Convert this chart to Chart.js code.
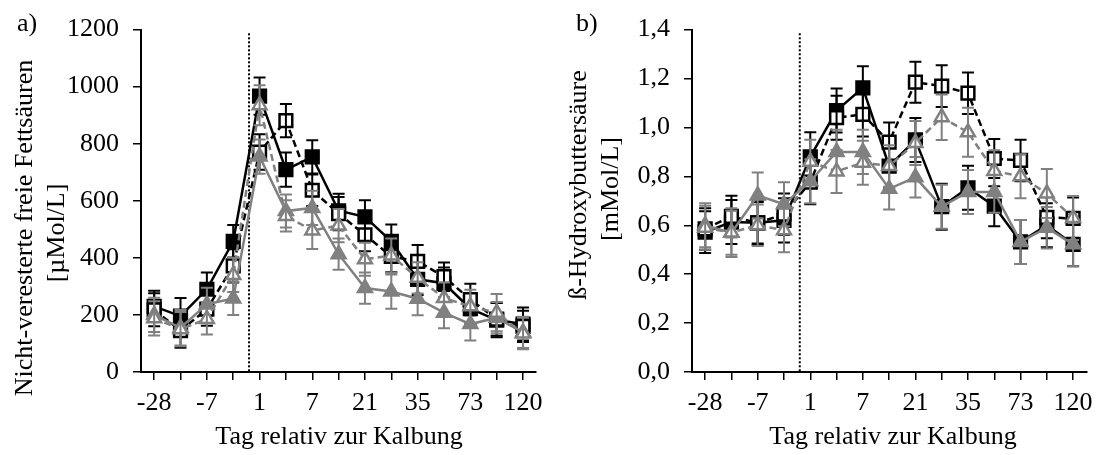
<!doctype html>
<html lang="de">
<head>
  <meta charset="utf-8">
  <title>NEFA und BHB um die Kalbung</title>
  <style>
    body { margin: 0; background: #fff; }
    #wrap { position: relative; width: 1101px; height: 455px; }
    canvas { position: absolute; top: 0; }
    #nefa { left: 0; }
    #bhb { left: 551px; }
  </style>
</head>
<body>
<div id="wrap">
  <canvas id="nefa" width="551" height="455"></canvas>
  <canvas id="bhb" width="550" height="455"></canvas>
</div>

<script src="https://cdn.jsdelivr.net/npm/chart.js@4.4.1/dist/chart.umd.min.js"></script>
<script>
  // Tag relativ zur Kalbung (only every second one is labelled)
  const days = ['-28', '-14', '-7', '-3', '1', '4', '7', '14', '21', '28', '35', '56', '73', '98', '120'];

  // a) Nicht-veresterte freie Fettsaeuren, µMol/L
  const nefaBlackFilled = [230, 196, 290, 458, 967, 709, 754, 565, 544, 458, 325, 311, 222, 182, 168];
  const nefaBlackFilledErr = [55, 63, 59, 57, 65, 60, 58, 60, 58, 59, 55, 55, 55, 60, 58];
  const nefaBlackOpen = [218, 145, 220, 372, 771, 881, 637, 555, 481, 405, 388, 334, 254, 185, 160];
  const nefaBlackOpenErr = [58, 60, 58, 58, 62, 58, 55, 58, 58, 55, 57, 50, 55, 58, 55];
  const nefaGreyFilled = [200, 155, 237, 258, 755, 564, 575, 413, 294, 282, 257, 208, 168, 190, 139];
  const nefaGreyFilledErr = [60, 62, 58, 58, 60, 58, 60, 55, 55, 60, 58, 55, 58, 55, 55];
  const nefaGreyOpen = [188, 150, 186, 340, 935, 547, 496, 513, 395, 408, 330, 259, 230, 208, 135];
  const nefaGreyOpenErr = [60, 60, 55, 60, 70, 55, 65, 58, 58, 60, 55, 55, 58, 65, 55];

  // b) ß-Hydroxybuttersaeure, mMol/L
  const bhbBlackFilled = [0.572, 0.613, 0.610, 0.620, 0.880, 1.069, 1.162, 0.842, 0.949, 0.676, 0.753, 0.678, 0.532, 0.600, 0.522];
  const bhbBlackFilledErr = [0.085, 0.09, 0.09, 0.09, 0.10, 0.09, 0.088, 0.09, 0.09, 0.094, 0.09, 0.082, 0.09, 0.09, 0.09];
  const bhbBlackOpen = [0.585, 0.636, 0.610, 0.645, 0.776, 1.040, 1.053, 0.940, 1.185, 1.169, 1.140, 0.873, 0.865, 0.632, 0.628];
  const bhbBlackOpenErr = [0.085, 0.085, 0.085, 0.085, 0.09, 0.09, 0.09, 0.08, 0.084, 0.085, 0.085, 0.08, 0.085, 0.085, 0.085];
  const bhbGreyFilled = [0.600, 0.569, 0.722, 0.686, 0.780, 0.900, 0.900, 0.749, 0.796, 0.676, 0.736, 0.736, 0.532, 0.590, 0.522];
  const bhbGreyFilledErr = [0.09, 0.09, 0.094, 0.09, 0.09, 0.09, 0.09, 0.085, 0.083, 0.09, 0.09, 0.085, 0.09, 0.085, 0.09];
  const bhbGreyOpen = [0.590, 0.570, 0.600, 0.580, 0.860, 0.820, 0.856, 0.842, 0.936, 1.042, 0.980, 0.822, 0.800, 0.730, 0.630];
  const bhbGreyOpenErr = [0.09, 0.1, 0.085, 0.09, 0.09, 0.088, 0.09, 0.085, 0.09, 0.093, 0.1, 0.085, 0.09, 0.10, 0.09];

  const BLACK = '#000000';
  const GREY = '#808080';
  const FONT = '"Liberation Serif", "Times New Roman", serif';

  Chart.defaults.font.family = FONT;
  Chart.defaults.font.size = 26;
  Chart.defaults.color = BLACK;

  // error bars in the colour of the series, drawn right after each series
  const errorBars = {
    id: 'errorBars',
    afterDatasetDraw(chart, args) {
      const ds = chart.data.datasets[args.index];
      if (!ds.err) return;
      const ctx = chart.ctx;
      const y = chart.scales.y;
      ctx.save();
      ctx.setLineDash([]);
      ctx.strokeStyle = ds.borderColor;
      ctx.lineWidth = 2;
      args.meta.data.forEach((pt, i) => {
        const top = y.getPixelForValue(ds.data[i] + ds.err[i]);
        const bot = y.getPixelForValue(ds.data[i] - ds.err[i]);
        ctx.beginPath();
        ctx.moveTo(pt.x, top); ctx.lineTo(pt.x, bot);
        ctx.moveTo(pt.x - 6, top); ctx.lineTo(pt.x + 6, top);
        ctx.moveTo(pt.x - 6, bot); ctx.lineTo(pt.x + 6, bot);
        ctx.stroke();
      });
      ctx.restore();
    }
  };

  // dotted line marking the calving day
  const calving = {
    id: 'calving',
    beforeDatasetsDraw(chart, args, opts) {
      const ctx = chart.ctx;
      const px = chart.scales.x.getPixelForValue(opts.at);
      ctx.save();
      ctx.strokeStyle = BLACK;
      ctx.lineWidth = 2;
      ctx.setLineDash([2, 2]);
      ctx.beginPath();
      ctx.moveTo(px, chart.scales.y.getPixelForValue(opts.top));
      ctx.lineTo(px, chart.chartArea.bottom);
      ctx.stroke();
      ctx.restore();
    }
  };

  // axis titles and panel letters
  const panelText = {
    id: 'panelText',
    afterDraw(chart, args, opts) {
      const ctx = chart.ctx;
      ctx.save();
      ctx.fillStyle = BLACK;
      ctx.textBaseline = 'middle';
      opts.items.forEach(t => {
        ctx.save();
        ctx.font = t.size + 'px ' + FONT;
        ctx.textAlign = t.align || 'center';
        ctx.translate(t.x, t.y);
        if (t.rot) ctx.rotate(-Math.PI / 2);
        ctx.fillText(t.text, 0, 0);
        ctx.restore();
      });
      ctx.restore();
    }
  };

  function series(data, err, colour, style, open, dashed) {
    return {
      data: data,
      err: err,
      borderColor: colour,
      backgroundColor: colour,
      borderWidth: 2.5,
      borderDash: dashed ? [7, 4] : [],
      pointStyle: style,
      pointRadius: style === 'rect' ? 9 : 8,
      pointBorderWidth: 2.5,
      pointBackgroundColor: open ? '#ffffff' : colour,
      pointBorderColor: colour,
      tension: 0
    };
  }

  function makeChart(id, sets, yMax, yStep, fmt, padRight, calvingTop, texts) {
    new Chart(document.getElementById(id), {
      type: 'line',
      data: {
        labels: days,
        datasets: sets
      },
      plugins: [errorBars, calving, panelText],
      options: {
        responsive: false,
        animation: false,
        events: [],
        layout: { padding: { left: 0, right: padRight, top: 22, bottom: 0 } },
        plugins: {
          legend: { display: false },
          tooltip: { enabled: false },
          calving: { at: 3.6, top: calvingTop },
          panelText: { items: texts }
        },
        scales: {
          x: {
            offset: true,
            afterFit: s => { s.height = 83; },
            grid: { offset: false, drawOnChartArea: false, tickLength: 8, color: BLACK, lineWidth: 1.5 },
            border: { color: BLACK, width: 2 },
            ticks: {
              autoSkip: false, maxRotation: 0, padding: 8,
              callback: (v, i) => i % 2 === 0 ? days[i] : ''
            }
          },
          y: {
            min: 0, max: yMax,
            afterFit: s => { s.width = 141; },
            grid: { drawOnChartArea: false, tickLength: 8, color: BLACK, lineWidth: 1.5 },
            border: { color: BLACK, width: 2 },
            ticks: { stepSize: yStep, padding: 14, callback: fmt }
          }
        }
      }
    });
  }

  function nefaSets() {
    const a = series(nefaBlackFilled, nefaBlackFilledErr, BLACK, 'rect', false, false);
    const b = series(nefaBlackOpen, nefaBlackOpenErr, BLACK, 'rect', true, true);
    const c = series(nefaGreyFilled, nefaGreyFilledErr, GREY, 'triangle', false, false);
    const d = series(nefaGreyOpen, nefaGreyOpenErr, GREY, 'triangle', true, true);
    a.order = 3; b.order = 2; c.order = 1; d.order = 0;
    return [a, b, c, d];
  }

  function bhbSets() {
    const a = series(bhbBlackFilled, bhbBlackFilledErr, BLACK, 'rect', false, false);
    const b = series(bhbBlackOpen, bhbBlackOpenErr, BLACK, 'rect', true, true);
    const c = series(bhbGreyFilled, bhbGreyFilledErr, GREY, 'triangle', false, false);
    const d = series(bhbGreyOpen, bhbGreyOpenErr, GREY, 'triangle', true, true);
    a.order = 3; b.order = 2; c.order = 1; d.order = 0;
    return [a, b, c, d];
  }

  makeChart('nefa', nefaSets(), 1200, 200, v => String(v), 14, 1187, [
    { text: 'a)', x: 17, y: 24, size: 26, align: 'left' },
    { text: 'Nicht-veresterte freie Fettsäuren', x: 25, y: 228, size: 26, rot: true },
    { text: '[µMol/L]', x: 57, y: 233, size: 26, rot: true },
    { text: 'Tag relativ zur Kalbung', x: 339, y: 437, size: 26 }
  ]);

  makeChart('bhb', bhbSets(), 1.4, 0.2, v => v.toFixed(1).replace('.', ','), 8, 1.385, [
    { text: 'b)', x: 25, y: 24, size: 26, align: 'left' },
    { text: 'ß-Hydroxybuttersäure', x: 28, y: 185, size: 26, rot: true },
    { text: '[mMol/L]', x: 60, y: 189, size: 26, rot: true },
    { text: 'Tag relativ zur Kalbung', x: 342, y: 437, size: 26 }
  ]);
</script>
</body>
</html>
